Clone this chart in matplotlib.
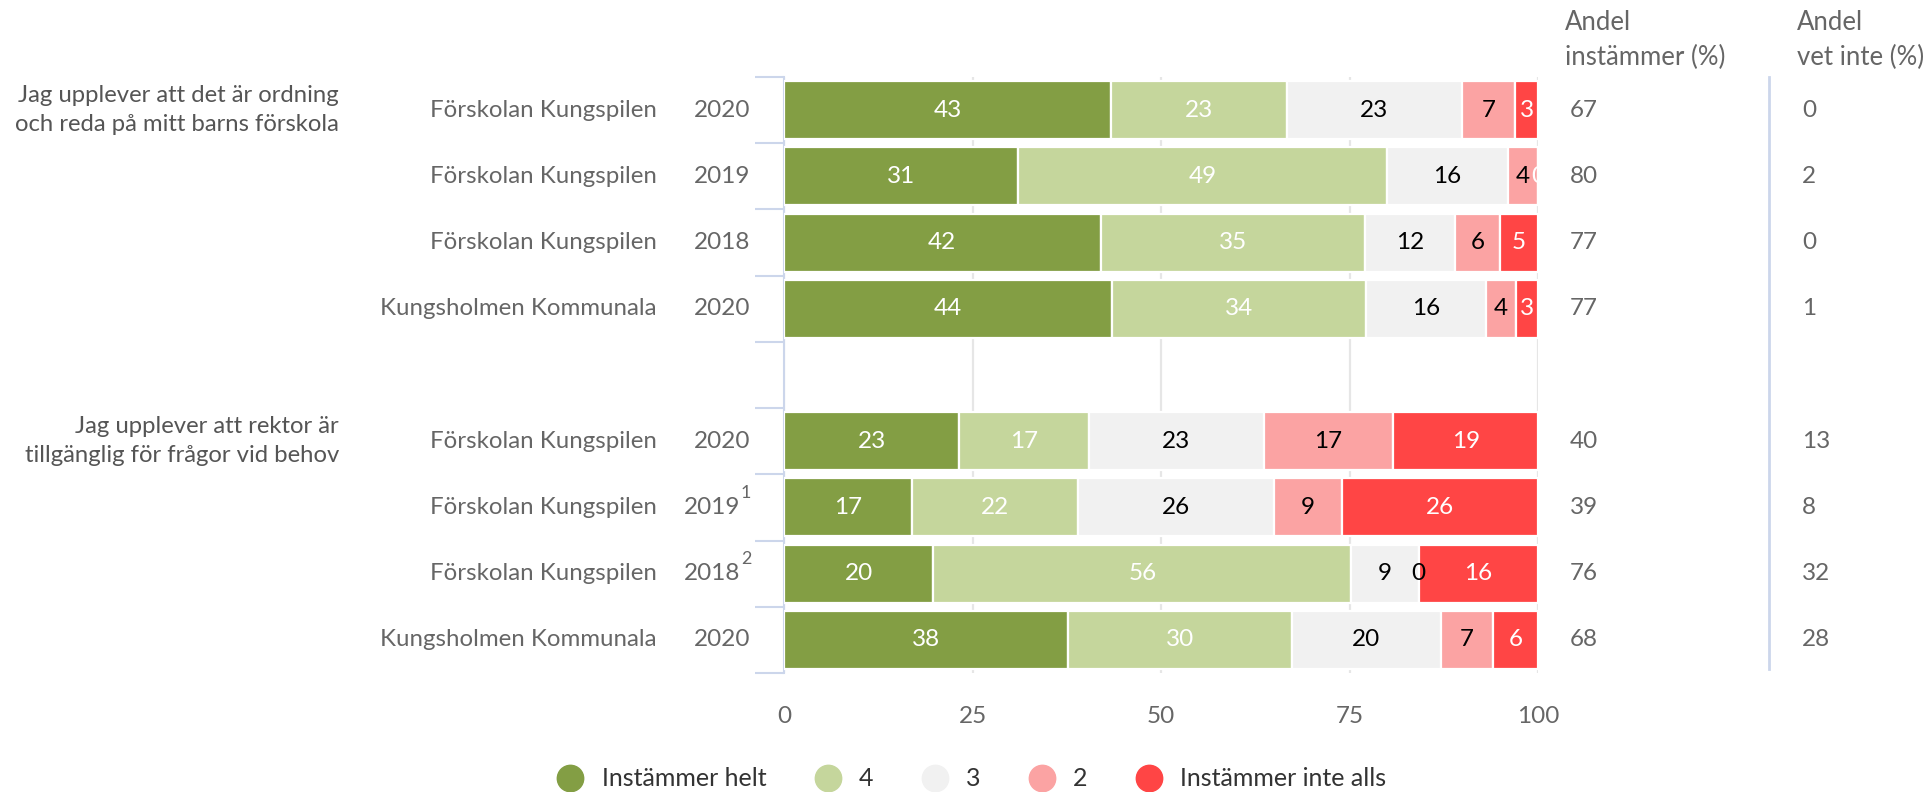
import matplotlib
matplotlib.use("Agg")
import matplotlib.pyplot as plt
from matplotlib.transforms import blended_transform_factory
from matplotlib.lines import Line2D
import numpy as np

plt.rcParams['font.family'] = ['Lato', 'DejaVu Sans']

# ---------------- data ----------------
questions = ["Jag upplever att det är ordning\noch reda på mitt barns förskola",
             "Jag upplever att rektor är\ntillgänglig för frågor vid behov"]
units = ["Förskolan Kungspilen", "Förskolan Kungspilen", "Förskolan Kungspilen", "Kungsholmen Kommunala",
         "Förskolan Kungspilen", "Förskolan Kungspilen", "Förskolan Kungspilen", "Kungsholmen Kommunala"]
years = ["2020", "2019", "2018", "2020", "2020", "2019", "2018", "2020"]
footnotes = ["", "", "", "", "", "1", "2", ""]
series_names = ["Instämmer helt", "4", "3", "2", "Instämmer inte alls"]
s_helt = [43, 31, 42, 44, 23, 17, 20, 38]
s_4 = [23, 49, 35, 34, 17, 22, 56, 30]
s_3 = [23, 16, 12, 16, 23, 26, 9, 20]
s_2 = [7, 4, 6, 4, 17, 9, 0, 7]
s_inte = [3, 0, 5, 3, 19, 26, 16, 6]
andel_instammer = [67, 80, 77, 77, 40, 39, 76, 68]
andel_vet_inte = [0, 2, 0, 1, 13, 8, 32, 28]
xticks = [0, 25, 50, 75, 100]

colors = ["#839e44", "#c5d69c", "#f1f1f1", "#fba3a3", "#ff4545"]
label_colors = ["white", "white", "black", "black", "white"]

# ---------------- layout ----------------
W, H = 1925, 792
fig = plt.figure(figsize=(W / 100, H / 100), dpi=100)
x0px, x1px, ytop, ybot = 784, 1538, 77, 673
ax = fig.add_axes([x0px / W, 1 - ybot / H, (x1px - x0px) / W, (ybot - ytop) / H])

rows = [0, 1, 2, 3, 5, 6, 7, 8]  # one blank row between the two questions
data = np.array([s_helt, s_4, s_3, s_2, s_inte], dtype=float)
totals = data.sum(axis=0)
norm = data / totals * 100

left = np.zeros(len(rows))
for k in range(5):
    ax.barh(rows, norm[k], left=left, height=0.875, color=colors[k],
            edgecolor="white", linewidth=1.6, zorder=3)
    for i, r in enumerate(rows):
        cx = left[i] + norm[k][i] / 2
        ax.text(cx, r, f"{int(data[k][i])}", ha="center", va="center",
                color=label_colors[k], fontsize=17.5, zorder=4, clip_on=True)
    left += norm[k]

ax.set_xlim(0, 100)
ax.set_ylim(8.5, -0.5)
ax.set_xticks(xticks)
ax.set_xticklabels([str(t) for t in xticks])
ax.tick_params(axis="x", length=0, pad=24, labelsize=17.5, labelcolor="#666666")
ax.set_yticks(np.arange(-0.5, 9.0, 1.0))
ax.set_yticklabels([])
ax.tick_params(axis="y", length=21, width=1.5, color="#ccd6eb")
for sp in ["top", "right", "bottom"]:
    ax.spines[sp].set_visible(False)
ax.spines["left"].set_color("#ccd6eb")
ax.spines["left"].set_linewidth(1.5)
ax.grid(axis="x", color="#e6e6e6", linewidth=1.6, zorder=0)
ax.set_axisbelow(True)

# ---------------- category labels ----------------
tr = blended_transform_factory(fig.transFigure, ax.transData)
for i, r in enumerate(rows):
    ax.text(657 / W, r, units[i], transform=tr, ha="right", va="center",
            fontsize=17.3, color="#666666")
    if footnotes[i]:
        ax.text(740 / W, r, years[i], transform=tr, ha="right", va="center",
                fontsize=17.5, color="#666666")
        ax.text(741 / W, r - 0.22, footnotes[i], transform=tr, ha="left", va="center",
                fontsize=13, color="#666666")
    else:
        ax.text(750 / W, r, years[i], transform=tr, ha="right", va="center",
                fontsize=17.5, color="#666666")
    ax.text(1570 / W, r, f"{andel_instammer[i]}", transform=tr, ha="left", va="center",
            fontsize=17.5, color="#666666")
    ax.text(1802 / W, r, f"{andel_vet_inte[i]}", transform=tr, ha="left", va="center",
            fontsize=17.5, color="#666666")

for q, r in zip(questions, [0, 5]):
    ax.text(339 / W, r, q, transform=tr, ha="right", va="center", fontsize=17.2,
            color="#555555", linespacing=1.5, multialignment="right")

# headers
for xh, l1, l2 in [(1565, "Andel", "instämmer (%)"), (1797, "Andel", "vet inte (%)")]:
    fig.text(xh / W, 1 - 23 / H, l1, ha="left", va="center", fontsize=18.5, color="#666666")
    fig.text(xh / W, 1 - 57 / H, l2, ha="left", va="center", fontsize=18.5, color="#666666")
fig.add_artist(Line2D([1769 / W, 1769 / W], [1 - 77 / H, 1 - 669 / H],
                      transform=fig.transFigure, color="#ccd6eb", linewidth=2))

# ---------------- legend ----------------
handles = [Line2D([], [], linestyle="none", marker="o", markersize=19,
                  markerfacecolor=c, markeredgecolor=c) for c in colors]
fig.legend(handles, series_names, loc="center", bbox_to_anchor=(972 / W, 13 / H),
           ncol=5, frameon=False, fontsize=18, handlelength=1.0, handletextpad=0.75,
           columnspacing=1.95, labelcolor="#333333", borderaxespad=0, borderpad=0)

fig.savefig("out.png", dpi=100, facecolor="white")
